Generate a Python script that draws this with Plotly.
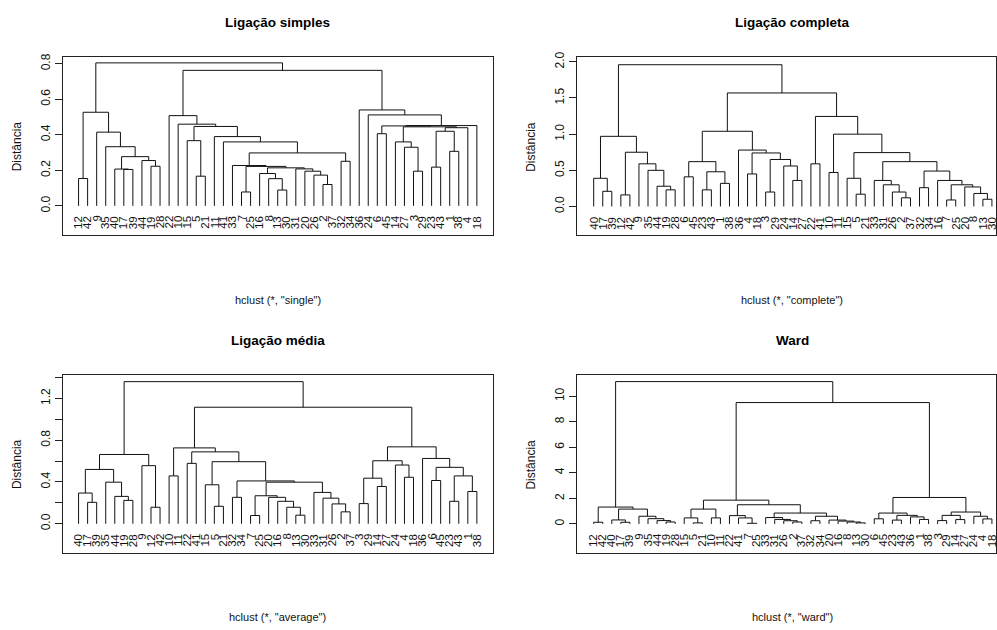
import plotly.graph_objects as go

FONT = "Liberation Sans, Arial, Helvetica, sans-serif"
W, H = 997, 630

# ---- leaf orders (as printed under each dendrogram) ----
leaves_single = [12, 42, 9, 35, 40, 17, 39, 44, 19, 28, 22, 10, 15, 5, 21, 11, 41, 33, 7, 25,
                 16, 8, 13, 30, 31, 20, 26, 2, 37, 32, 34, 36, 24, 6, 45, 14, 27, 3, 29, 23,
                 43, 1, 38, 4, 18]
leaves_complete = [40, 17, 39, 12, 42, 9, 35, 44, 19, 28, 6, 45, 23, 43, 1, 38, 36, 4, 18, 3,
                   29, 24, 14, 27, 22, 41, 10, 11, 15, 5, 21, 33, 31, 26, 2, 37, 32, 34, 16, 7,
                   25, 20, 8, 13, 30]
leaves_average = [40, 17, 39, 35, 44, 19, 28, 9, 12, 42, 10, 11, 22, 41, 15, 5, 21, 32, 34, 7,
                  25, 20, 16, 8, 13, 30, 33, 31, 26, 2, 37, 3, 29, 14, 27, 24, 4, 18, 36, 6,
                  45, 23, 43, 1, 38]
leaves_ward = [12, 42, 40, 17, 39, 9, 35, 44, 19, 28, 15, 5, 21, 10, 11, 22, 41, 7, 25, 33,
               31, 26, 2, 37, 32, 34, 20, 16, 8, 13, 30, 6, 45, 23, 43, 36, 1, 38, 3, 29,
               14, 27, 24, 4, 18]

# ---- merge trees: [left, right, height] ----
single_left = [[12, 42, 0.154],
               [9, [35, [[40, [17, 39, 0.205], 0.207], [44, [19, 28, 0.223], 0.255], 0.277], 0.333], 0.415],
               0.527]
single_z = [[33, [[7, 25, 0.078],
                  [[16, [8, [13, 30, 0.089], 0.153], 0.182],
                   [31, [20, [26, [2, 37, 0.12], 0.173], 0.195], 0.208], 0.214], 0.222], 0.227],
            [32, 34, 0.251], 0.298]
single_mid = [22, [10, [[15, [5, 21, 0.167], 0.367], [11, [41, single_z, 0.36], 0.39], 0.447], 0.46], 0.508]
single_right = [36, [24, [[[6, 45, 0.406],
                           [[14, [27, [3, 29, 0.195], 0.33], 0.36],
                            [[[23, 43, 0.218], [1, 38, 0.307], 0.42], 4, 0.44], 0.445], 0.45],
                          18, 0.452], 0.512], 0.54]
tree_single = [single_left, [single_mid, single_right, 0.763], 0.805]

complete_left = [[40, [17, 39, 0.21], 0.39],
                 [[12, 42, 0.16], [9, [35, [44, [19, 28, 0.23], 0.28], 0.5], 0.59], 0.75], 0.97]
complete_a = [[[6, 45, 0.41], [[23, 43, 0.23], [1, 38, 0.32], 0.48], 0.62],
              [36, [[4, 18, 0.45], [[3, 29, 0.2], [24, [14, 27, 0.36], 0.56], 0.65], 0.74], 0.78], 1.04]
complete_b = [[22, 41, 0.59],
              [[10, 11, 0.47],
               [[15, [5, 21, 0.17], 0.39],
                [[33, [31, [26, [2, 37, 0.12], 0.2], 0.3], 0.36],
                 [[32, 34, 0.26], [16, [[7, 25, 0.09], [20, [8, [13, 30, 0.1], 0.18], 0.27], 0.3], 0.36], 0.49],
                 0.62], 0.745], 1.0], 1.245]
tree_complete = [complete_left, [complete_a, complete_b, 1.57], 1.96]

average_left = [[[40, [17, 39, 0.205], 0.294], [35, [44, [19, 28, 0.224], 0.262], 0.398], 0.52],
                [9, [12, 42, 0.158], 0.556], 0.663]
average_f = [[7, 25, 0.079], [20, [16, [8, [13, 30, 0.082], 0.158], 0.215], 0.253], 0.268]
average_g = [33, [31, [26, [2, 37, 0.114], 0.19], 0.245], 0.3]
average_a = [[10, 11, 0.458],
             [[22, 41, 0.578],
              [[15, [5, 21, 0.167], 0.373], [[32, 34, 0.253], [average_f, average_g, 0.398], 0.41], 0.594],
              0.688], 0.726]
average_b = [[[[3, 29, 0.193], [14, 27, 0.357], 0.436], [24, [4, 18, 0.445], 0.562], 0.603],
             [36, [[6, 45, 0.414], [[23, 43, 0.215], [1, 38, 0.309], 0.458], 0.54], 0.625], 0.736]
tree_average = [average_left, [average_a, average_b, 1.115], 1.36]

ward_left = [[12, 42, 0.13],
             [[40, [17, 39, 0.13], 0.31], [9, [35, [44, [19, 28, 0.15], 0.26], 0.41], 0.6], 1.16], 1.32]
ward_p = [33, [31, [26, [2, 37, 0.15], 0.25], 0.35], 0.5]
ward_q = [[32, 34, 0.25], [20, [16, [8, [13, 30, 0.08], 0.15], 0.22], 0.3], 0.6]
ward_a = [[[15, [5, 21, 0.08], 0.47], [10, 11, 0.47], 1.16],
          [[22, [41, [7, 25, 0.05], 0.47], 0.65], [ward_p, ward_q, 0.85], 1.5], 1.86]
ward_b = [[[6, 45, 0.4], [[23, 43, 0.3], [36, [1, 38, 0.35], 0.55], 0.67], 0.85],
          [[[3, 29, 0.26], [14, 27, 0.34], 0.67], [24, [4, 18, 0.39], 0.6], 0.93], 2.07]
tree_ward = [ward_left, [ward_a, ward_b, 9.5], 11.14]

titles = ["Ligação simples", "Ligação completa", "Ligação média", "Ward"]
methods = ["single", "complete", "average", "ward"]
trees = [tree_single, tree_complete, tree_average, tree_ward]
leaf_orders = [leaves_single, leaves_complete, leaves_average, leaves_ward]
tick_values = [[0.0, 0.2, 0.4, 0.6, 0.8],
               [0.0, 0.5, 1.0, 1.5, 2.0],
               [0.0, 0.2, 0.4, 0.6, 0.8, 1.0, 1.2, 1.4],
               [0, 2, 4, 6, 8, 10]]
tick_labels = [["0.0", "0.2", "0.4", "0.6", "0.8"],
               ["0.0", "0.5", "1.0", "1.5", "2.0"],
               ["0.0", "", "0.4", "", "0.8", "", "1.2", ""],
               ["0", "2", "4", "6", "8", "10"]]

# plot boxes in pixels: (left, top, right, bottom)
boxes = [(62.7, 51.7, 493.3, 231.7), (577.3, 51.7, 997, 231.7),
         (62.7, 372.5, 493.3, 552.5), (577.3, 372.5, 997, 552.5)]
x_ranges = [(-0.76, 46.76), (-0.876, 45.45), (-0.76, 46.76), (-0.876, 45.45)]
y_ranges = [(-0.167, 0.837), (-0.401, 2.064), (-0.282, 1.424), (-2.295, 11.66)]
title_centers = [(278, 17), (793, 17), (278, 338), (793, 338)]
xlab_centers = [(278, 297), (793, 297), (278, 617), (793, 617)]
ylab_centers = [(17, 141.7), (532, 141.7), (17, 462.5), (532, 462.5)]


def segments(node, pos, xs, ys):
    """Return (x, height) of node, appending its dendrogram segments."""
    if not isinstance(node, list):
        return pos[node], 0.0
    left, right, h = node
    xl, hl = segments(left, pos, xs, ys)
    xr, hr = segments(right, pos, xs, ys)
    xs.extend([xl, xl, xr, xr, None])
    ys.extend([hl, h, h, hr, None])
    return (xl + xr) / 2.0, h


def inorder(node, out):
    if not isinstance(node, list):
        out.append(node)
    else:
        inorder(node[0], out)
        inorder(node[1], out)
    return out


def paper_text(px, py, text, size, angle=0):
    return dict(x=px / W, y=1 - py / H, xref="paper", yref="paper", text=text,
                textangle=angle, showarrow=False, xanchor="center", yanchor="middle",
                font=dict(family=FONT, size=size, color="#111"))


fig = go.Figure()
annotations = []
layout_axes = {}

for k in range(4):
    order = leaf_orders[k]
    assert inorder(trees[k], []) == order
    pos = {lab: i + 1 for i, lab in enumerate(order)}
    xs, ys = [], []
    segments(trees[k], pos, xs, ys)
    xa = "x" if k == 0 else f"x{k + 1}"
    ya = "y" if k == 0 else f"y{k + 1}"
    fig.add_trace(go.Scatter(x=xs, y=ys, mode="lines", xaxis=xa, yaxis=ya,
                             line=dict(color="#111", width=1), hoverinfo="skip",
                             showlegend=False))

    l, t, r, b = boxes[k]
    xname = "xaxis" if k == 0 else f"xaxis{k + 1}"
    yname = "yaxis" if k == 0 else f"yaxis{k + 1}"
    layout_axes[xname] = dict(domain=[l / W, r / W], range=list(x_ranges[k]),
                              anchor=ya, showgrid=False, zeroline=False,
                              showticklabels=False, ticks="", showline=True,
                              mirror=True, linecolor="#222", linewidth=1)
    layout_axes[yname] = dict(domain=[1 - b / H, 1 - t / H], range=list(y_ranges[k]),
                              anchor=xa, showgrid=False, zeroline=False,
                              tickmode="array", tickvals=tick_values[k],
                              ticktext=tick_labels[k], ticks="outside", ticklen=7,
                              tickcolor="#222", tickangle=-90,
                              tickfont=dict(family=FONT, size=12, color="#111"),
                              showline=True, mirror=True, linecolor="#222", linewidth=1)

    # leaf labels, rotated under each leaf
    for lab, i in pos.items():
        annotations.append(dict(x=i, y=0, xref=xa, yref=ya, text=str(lab),
                                textangle=-90, showarrow=False, xanchor="center",
                                yanchor="top", yshift=-8,
                                font=dict(family=FONT, size=11.5, color="#111")))

    tx, ty = title_centers[k]
    title = paper_text(tx, ty, f"<b>{titles[k]}</b>", 13.5)
    title["font"]["color"] = "#000"
    annotations.append(title)
    lx, ly = xlab_centers[k]
    annotations.append(paper_text(lx, ly, f'hclust (*, "{methods[k]}")', 11))
    yx, yy = ylab_centers[k]
    annotations.append(paper_text(yx, yy, "Distância", 12, angle=-90))

fig.update_layout(width=W, height=H, margin=dict(l=0, r=0, t=0, b=0),
                  paper_bgcolor="white", plot_bgcolor="white",
                  annotations=annotations, **layout_axes)

fig.write_html("out.html")
